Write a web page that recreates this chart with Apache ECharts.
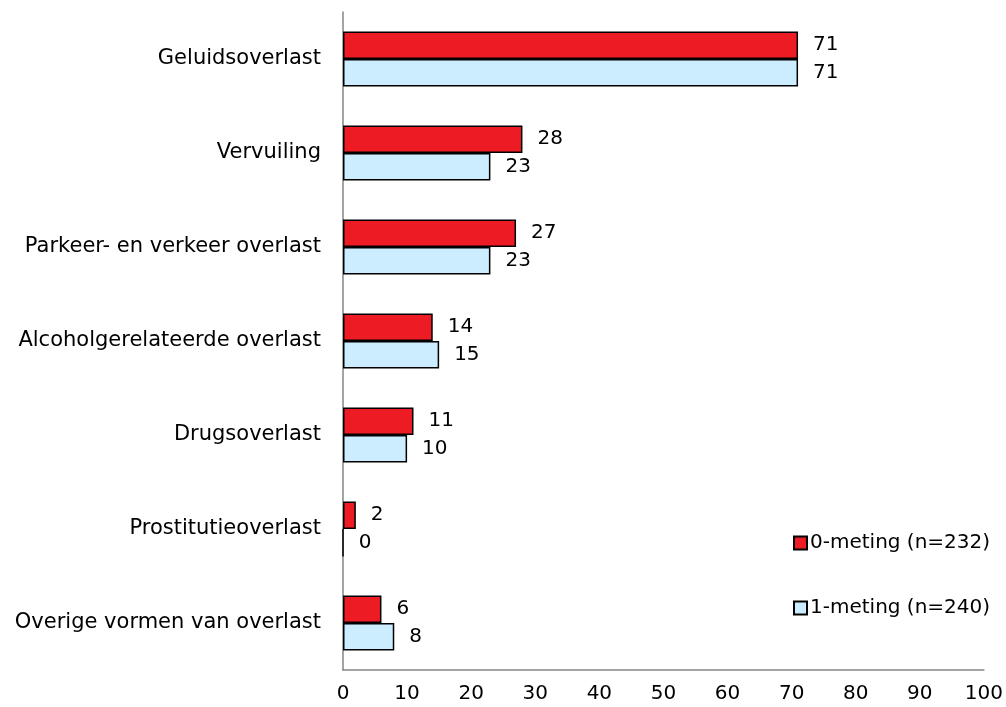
<!DOCTYPE html>
<html><head><meta charset="utf-8">
<script src="https://cdn.jsdelivr.net/npm/echarts@6/dist/echarts.min.js"></script>
<style>html,body{margin:0;padding:0;background:#fff}#c{width:1006px;height:707px}</style>
</head><body><div id="c"></div>
<script>
const categories = ["Geluidsoverlast","Vervuiling","Parkeer- en verkeer overlast","Alcoholgerelateerde overlast","Drugsoverlast","Prostitutieoverlast","Overige vormen van overlast"];
const meting0 = [71,28,27,14,11,2,6];
const meting1 = [71,23,23,15,10,0,8];
const seriesNames = ["0-meting (n=232)","1-meting (n=240)"];
const FONT = "'DejaVu Sans', sans-serif";
const chart = echarts.init(document.getElementById('c'));
const lbl = {show:true, position:'right', distance:15, color:'#000', fontSize:20, fontFamily:FONT};
chart.setOption({
  animation:false,
  grid:{left:343,right:20,top:12,bottom:37,containLabel:false},
  legend:{orient:'vertical',left:788,top:528,itemGap:45,itemWidth:13,itemHeight:13,
    textStyle:{fontSize:20,fontFamily:FONT,color:'#000',padding:[0,0,0,-2]},
    data:[{name:seriesNames[0],icon:'rect'},{name:seriesNames[1],icon:'rect'}]},
  xAxis:{type:'value',min:0,max:100,interval:10,
    axisLine:{show:true,lineStyle:{color:'#868686',width:1.5}},axisTick:{show:false},splitLine:{show:false},
    axisLabel:{fontSize:20,fontFamily:FONT,color:'#000',margin:14}},
  yAxis:{type:'category',inverse:true,data:categories,
    axisLine:{show:true,lineStyle:{color:'#868686',width:1.5}},axisTick:{show:false},
    axisLabel:{fontSize:21,fontFamily:FONT,color:'#000',margin:22}},
  series:[
    {name:seriesNames[0],type:'bar',data:meting0,barGap:'0%',barWidth:27.5,
     itemStyle:{color:'#ED1C24',borderColor:'#000',borderWidth:1.5},label:lbl},
    {name:seriesNames[1],type:'bar',data:meting1,barGap:'0%',barWidth:27.5,
     itemStyle:{color:'#CCECFF',borderColor:'#000',borderWidth:1.5},label:lbl}
  ]
});
</script></body></html>
